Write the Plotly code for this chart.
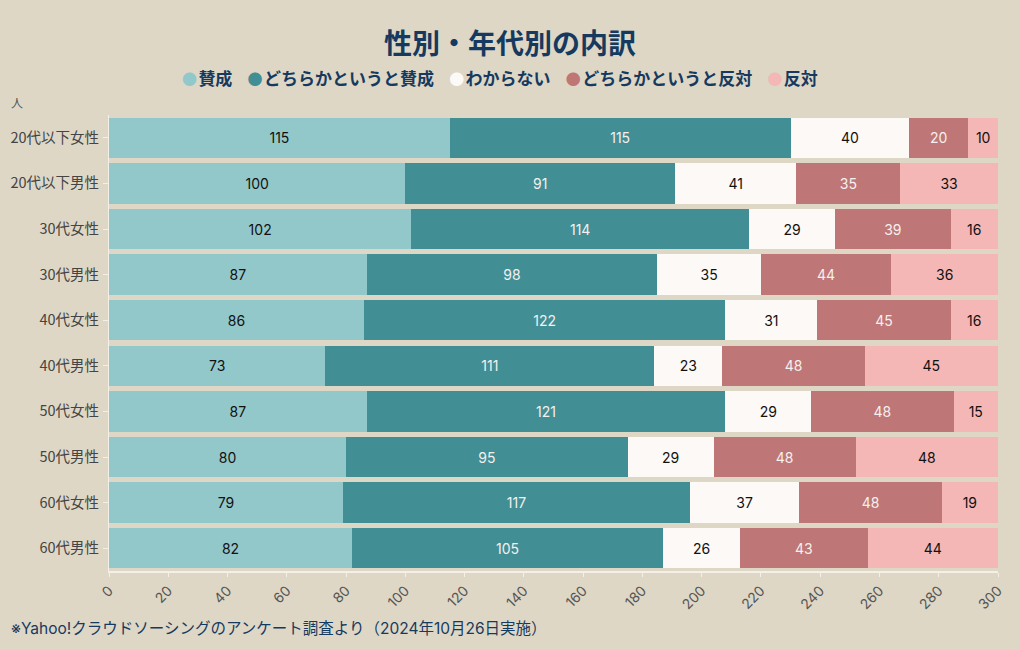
import plotly.graph_objects as go

categories = ["20代以下女性", "20代以下男性", "30代女性", "30代男性", "40代女性",
              "40代男性", "50代女性", "50代男性", "60代女性", "60代男性"]
series_names = ["賛成", "どちらかというと賛成", "わからない", "どちらかというと反対", "反対"]
v_agree = [115, 100, 102, 87, 86, 73, 87, 80, 79, 82]
v_some_agree = [115, 91, 114, 98, 122, 111, 121, 95, 117, 105]
v_unknown = [40, 41, 29, 35, 31, 23, 29, 29, 37, 26]
v_some_oppose = [20, 35, 39, 44, 45, 48, 48, 48, 48, 43]
v_oppose = [10, 33, 16, 36, 16, 45, 15, 48, 19, 44]
x_ticks = list(range(0, 301, 20))

colors = ["#93c8cb", "#418e94", "#fdf9f7", "#bf7677", "#f4b7b6"]
text_colors = ["#111111", "#f4f0ee", "#111111", "#f4f0ee", "#111111"]
values = [v_agree, v_some_agree, v_unknown, v_some_oppose, v_oppose]

FONT = "Inter, 'Noto Sans CJK JP', sans-serif"
JFONT = "'Noto Sans CJK JP', sans-serif"
NAVY = "#163a5f"
BG = "#ded7c6"
AXIS = "#f4f0e8"

W, H = 1020, 650
ML, MR, MT, MB = 109, 22, 115, 79
PW, PH = W - ML - MR, H - MT - MB


def px_x(px):
    return (px - ML) / PW


def px_y(py):
    return (H - MB - py) / PH


fig = go.Figure()
for name, vals, c, tc in zip(series_names, values, colors, text_colors):
    fig.add_trace(go.Bar(
        y=categories, x=vals, name=name, orientation="h",
        marker=dict(color=c, line=dict(width=0)),
        text=vals, textposition="inside", insidetextanchor="middle",
        textfont=dict(color=tc, size=14, family=FONT),
        showlegend=False, hoverinfo="x+y+name",
    ))

legend_html = "&nbsp;&nbsp;&nbsp;&nbsp;".join(
    f"<span style='color:{c};font-size:15px'>●</span><span style='font-size:6px'>&nbsp;</span><b>{n}</b>"
    for n, c in zip(series_names, colors)
)

fig.update_layout(
    barmode="stack",
    bargap=0.114,
    width=W, height=H,
    paper_bgcolor=BG, plot_bgcolor=BG,
    font=dict(family=FONT, color="#444444", size=14),
    margin=dict(l=ML, r=MR, t=MT, b=MB, autoexpand=False),
    showlegend=False,
    title=dict(text="<b>性別・年代別の内訳</b>", x=0.5, xanchor="center",
               y=1 - 44 / H, yanchor="middle",
               font=dict(size=28, color=NAVY, family=JFONT)),
    xaxis=dict(range=[0, 300], tickvals=x_ticks, tickangle=-45,
               showgrid=False, zeroline=False, automargin=False,
               showline=True, linecolor=AXIS, linewidth=2,
               ticks="outside", ticklen=4, tickcolor=AXIS,
               tickfont=dict(size=14, color="#555555")),
    yaxis=dict(autorange="reversed", showgrid=False, automargin=False,
               showline=True, linecolor=AXIS, linewidth=1,
               ticks="outside", ticklen=5, tickcolor=AXIS,
               ticklabelstandoff=1,
               tickfont=dict(size=14.5, color="#444444", family=JFONT)),
    annotations=[
        dict(text=legend_html, xref="paper", yref="paper", x=px_x(500), y=px_y(78),
             xanchor="center", yanchor="middle", showarrow=False,
             font=dict(size=17, color=NAVY, family=JFONT)),
        dict(text="人", xref="paper", yref="paper", x=px_x(9), y=px_y(103),
             xanchor="left", yanchor="middle", showarrow=False,
             font=dict(size=12, color="#555555", family=JFONT)),
        dict(text="※Yahoo!クラウドソーシングのアンケート調査より（2024年10月26日実施）",
             xref="paper", yref="paper", x=px_x(9), y=px_y(628),
             xanchor="left", yanchor="middle", showarrow=False,
             font=dict(size=15.5, color=NAVY)),
    ],
)
fig.write_html("out.html", config={"displayModeBar": False},
               post_script="document.body.style.margin='0';document.body.style.background='#ded7c6';")
